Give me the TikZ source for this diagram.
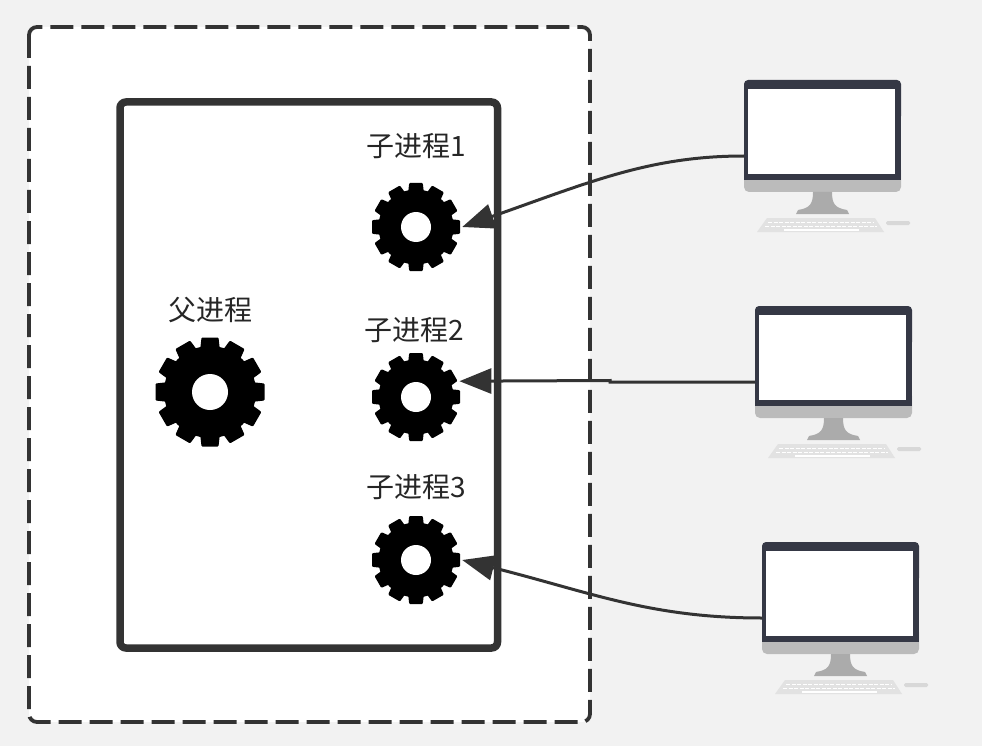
\documentclass[tikz,border=0pt]{standalone}
\usepackage{fontspec}
\setmainfont{Noto Sans CJK SC}
\usetikzlibrary{arrows.meta,calc}
\definecolor{pagebg}{HTML}{F2F2F2}
\definecolor{linedark}{HTML}{333333}
\definecolor{screenframe}{HTML}{353845}
\definecolor{chingray}{HTML}{BBBBBB}
\definecolor{standgray}{HTML}{ABABAB}
\definecolor{keygray}{HTML}{D8D8D8}

\begin{document}
\begin{tikzpicture}[
    x=1pt, y=-1pt,
    outerbox/.style={draw=linedark, line width=3.8pt, rounded corners=8pt, fill=white, dash pattern=on 23pt off 8pt},
    innerbox/.style={draw=linedark, line width=7.5pt, rounded corners=6pt, fill=white},
    lbl/.style={font=\fontsize{28}{30}\selectfont, text=black!85, inner sep=0pt},
    gearnode/.style={circle, inner sep=0pt, minimum size=#1},
    screen/.style={rectangle, fill=white, inner sep=0pt, minimum width=147pt, minimum height=85pt},
    arr/.style={-{Triangle[length=32pt, width=25pt]}, draw=linedark, line width=3pt},
    pics/gearicon/.style n args={4}{code={
        \fill[black] (0,0) circle[radius=#1];
        \foreach \a in {0,30,...,330}
            \fill[black, rotate=\a, rounded corners=1pt] (-#3*1.15,-#1+3) -- (-#3,-#2) -- (#3,-#2) -- (#3*1.15,-#1+3) -- cycle;
        \fill[white] (0,0) circle[radius=#4];
    }}
]
\useasboundingbox (0,0) rectangle (982,746);
\fill[pagebg] (0,0) rectangle (982,746);

% boxes
\draw[outerbox] (29,27) rectangle (590,722);
\draw[innerbox] (120,102) rectangle (497.5,648);

% gears
\node[gearnode=92pt] (parent) at (210,392) {};
\node[gearnode=92pt] (childA) at (416,227) {};
\node[gearnode=92pt] (childB) at (416,397) {};
\node[gearnode=92pt] (childC) at (416,560) {};
\pic at (parent) {gearicon={46}{54.5}{8.5}{18}};
\pic at (childA) {gearicon={37.5}{44}{6.8}{15}};
\pic at (childB) {gearicon={37.5}{44}{6.8}{15}};
\pic at (childC) {gearicon={37.5}{44}{6.8}{15}};

\node[lbl] (parentlbl) at (210,310) {父进程};
\node[lbl] (childAlbl) at (416,146) {子进程1};
\node[lbl] (childBlbl) at (414,330) {子进程2};
\node[lbl] (childClbl) at (416,487) {子进程3};

% computers
\foreach \name/\dx/\dy in {monA/744/80, monB/755/306, monC/762/542} {
    \begin{scope}[shift={(\dx,\dy)}]
        \fill[chingray, rounded corners=5pt] (0,85) rectangle (157,112);
        \fill[screenframe, rounded corners=4pt] (0,0) rectangle (157,40);
        \fill[screenframe] (0,10) rectangle (157,100);
        \fill[standgray] (69,112) .. controls (69,124) and (66,128) .. (54,130) -- (52,134) -- (105,134) -- (103,130) .. controls (91,128) and (88,124) .. (88,112) -- cycle;
        \fill[keygray!60!pagebg] (23,138) -- (131,138) -- (140,152) -- (13,152) -- cycle;
        \draw[white, line width=1pt, dash pattern=on 4pt off 1.5pt] (24,142) -- (130,142);
        \draw[white, line width=1pt, dash pattern=on 4pt off 1.5pt] (21,146) -- (133,146);
        \draw[white, line width=1.2pt] (40,150) -- (115,150);
        \fill[keygray, rounded corners=1.5pt] (142,141) rectangle (166,145);
        \node[screen] (\name) at (77.5,51.5) {};
        \coordinate (\name port) at (0,76);
    \end{scope}
}

% connectors
\draw[arr] (monAport) .. controls (650,156) and (590,182) .. (childA.east);
\draw[arr] (monBport) -- ++(-145,0) -- ++(0,-1.5) -- (childB.20);
\draw[arr] (monCport) .. controls (650,618) and (590,592) .. (childC.east);
\end{tikzpicture}
\end{document}
